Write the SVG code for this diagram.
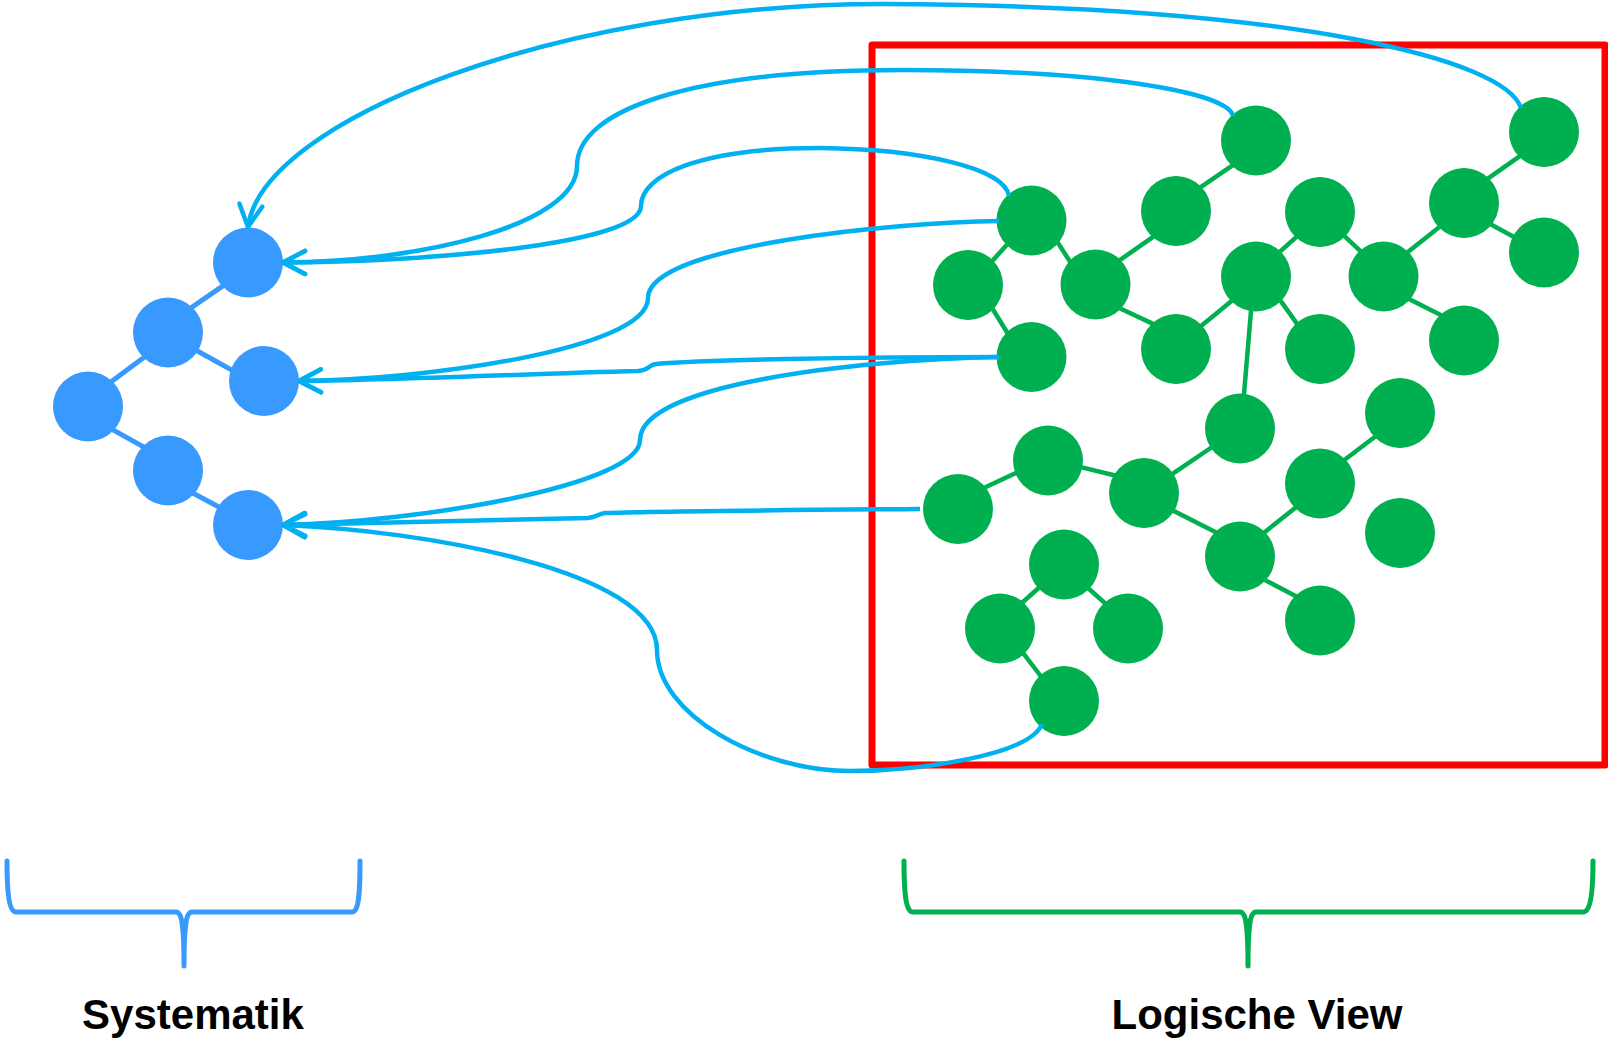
<svg xmlns="http://www.w3.org/2000/svg" width="1608" height="1038" viewBox="0 0 1608 1038">
<style>
.bn{fill:#3899FF}
.gn{fill:#00AF50}
.be{stroke:#3899FF;stroke-width:5;fill:none}
.ge{stroke:#00AF50;stroke-width:4.5;fill:none}
.cn{stroke:#00B0F0;stroke-width:4.5;fill:none;stroke-linecap:butt;marker-end:url(#arr)}
.lbl{font-family:"Liberation Sans",Arial,sans-serif;font-weight:bold;font-size:42px;fill:#000;text-anchor:middle}
</style>
<defs>
<marker id="arr" markerUnits="userSpaceOnUse" markerWidth="40" markerHeight="40" viewBox="-30 -20 40 40" refX="0" refY="0" orient="auto" overflow="visible">
<path d="M-22,-11.5 L0,0 L-22,11.5" fill="none" stroke="#00B0F0" stroke-width="4.5" stroke-linecap="round" stroke-linejoin="round"/>
</marker>
</defs>
<rect id="frame" x="872" y="45" width="733" height="720" fill="none" stroke="#FF0000" stroke-width="7" stroke-linejoin="round"/>
<g id="edges">
<line class="be" x1="186.8" y1="310.7" x2="227.6" y2="282.6"/>
<line class="be" x1="191.5" y1="347.8" x2="236.9" y2="372.9"/>
<line class="be" x1="149.8" y1="353.1" x2="105.2" y2="386.3"/>
<line class="be" x1="108.1" y1="427.1" x2="148.5" y2="449.6"/>
<line class="be" x1="188" y1="490.5" x2="223.6" y2="509.5"/>
<line class="ge" x1="1196" y1="190.4" x2="1238" y2="161.6"/>
<line class="ge" x1="988.3" y1="265.4" x2="1010" y2="241.3"/>
<line class="ge" x1="1055.6" y1="239.1" x2="1072.7" y2="265.9"/>
<line class="ge" x1="990.7" y1="305.7" x2="1009.3" y2="336"/>
<line class="ge" x1="1115.9" y1="262.9" x2="1157.4" y2="233.8"/>
<line class="ge" x1="1115.5" y1="306.2" x2="1156.2" y2="325.4"/>
<line class="ge" x1="1197.1" y1="329.2" x2="1234.9" y2="298.3"/>
<line class="ge" x1="1251.5" y1="305" x2="1243.5" y2="400"/>
<line class="ge" x1="1276.3" y1="255" x2="1300.4" y2="233.3"/>
<line class="ge" x1="1277.1" y1="295.9" x2="1299.6" y2="327.4"/>
<line class="ge" x1="1339.7" y1="231.6" x2="1363.6" y2="254.1"/>
<line class="ge" x1="1404.4" y1="254.8" x2="1443.9" y2="223.6"/>
<line class="ge" x1="1402.5" y1="295.7" x2="1445.2" y2="317.3"/>
<line class="ge" x1="1484.2" y1="181.2" x2="1522.4" y2="154.4"/>
<line class="ge" x1="1487.3" y1="222.6" x2="1517.7" y2="239.1"/>
<line class="ge" x1="982.2" y1="488.8" x2="1021.2" y2="470.6"/>
<line class="ge" x1="1076.8" y1="466.1" x2="1118.2" y2="476.2"/>
<line class="ge" x1="1169.2" y1="476.1" x2="1215.8" y2="444.5"/>
<line class="ge" x1="1168.8" y1="508.4" x2="1221.2" y2="535"/>
<line class="ge" x1="1259.4" y1="536.4" x2="1300.6" y2="503.6"/>
<line class="ge" x1="1342.7" y1="461.3" x2="1378" y2="434.5"/>
<line class="ge" x1="1260.6" y1="577.7" x2="1301.1" y2="599"/>
<line class="ge" x1="1019.6" y1="605" x2="1042" y2="585"/>
<line class="ge" x1="1084.6" y1="585" x2="1107" y2="605"/>
<line class="ge" x1="1020.3" y1="649.3" x2="1043" y2="679"/>
</g>
<g id="sys-a"><circle class="bn" cx="248" cy="262.5" r="35"/></g>
<g id="sys-b"><circle class="bn" cx="168" cy="332.5" r="35"/></g>
<g id="sys-c"><circle class="bn" cx="264" cy="381" r="35"/></g>
<g id="sys-d"><circle class="bn" cx="88" cy="406.5" r="35"/></g>
<g id="sys-e"><circle class="bn" cx="168" cy="470.5" r="35"/></g>
<g id="sys-f"><circle class="bn" cx="248" cy="525" r="35"/></g>
<g id="lv-1"><circle class="gn" cx="1256" cy="140.5" r="35"/></g>
<g id="lv-2"><circle class="gn" cx="1031.5" cy="220.5" r="35"/></g>
<g id="lv-3"><circle class="gn" cx="968" cy="285" r="35"/></g>
<g id="lv-4"><circle class="gn" cx="1095.5" cy="284.5" r="35"/></g>
<g id="lv-5"><circle class="gn" cx="1176" cy="211" r="35"/></g>
<g id="lv-6"><circle class="gn" cx="1031.5" cy="357" r="35"/></g>
<g id="lv-7"><circle class="gn" cx="1176" cy="349" r="35"/></g>
<g id="lv-8"><circle class="gn" cx="1256" cy="276.5" r="35"/></g>
<g id="lv-9"><circle class="gn" cx="1240" cy="428.5" r="35"/></g>
<g id="lv-10"><circle class="gn" cx="1320" cy="212" r="35"/></g>
<g id="lv-11"><circle class="gn" cx="1383.5" cy="276.5" r="35"/></g>
<g id="lv-12"><circle class="gn" cx="1464" cy="203" r="35"/></g>
<g id="lv-13"><circle class="gn" cx="1544" cy="132" r="35"/></g>
<g id="lv-14"><circle class="gn" cx="1544" cy="252.5" r="35"/></g>
<g id="lv-15"><circle class="gn" cx="1320" cy="349" r="35"/></g>
<g id="lv-16"><circle class="gn" cx="1464" cy="340.5" r="35"/></g>
<g id="lv-17"><circle class="gn" cx="1400" cy="413" r="35"/></g>
<g id="lv-18"><circle class="gn" cx="1048" cy="460.5" r="35"/></g>
<g id="lv-19"><circle class="gn" cx="958" cy="509" r="35"/></g>
<g id="lv-20"><circle class="gn" cx="1144" cy="493" r="35"/></g>
<g id="lv-21"><circle class="gn" cx="1320" cy="483.5" r="35"/></g>
<g id="lv-22"><circle class="gn" cx="1240" cy="556.5" r="35"/></g>
<g id="lv-23"><circle class="gn" cx="1320" cy="620.5" r="35"/></g>
<g id="lv-24"><circle class="gn" cx="1064" cy="564.5" r="35"/></g>
<g id="lv-25"><circle class="gn" cx="1000" cy="628.5" r="35"/></g>
<g id="lv-26"><circle class="gn" cx="1128" cy="628.5" r="35"/></g>
<g id="lv-27"><circle class="gn" cx="1064" cy="701" r="35"/></g>
<g id="lv-28"><circle class="gn" cx="1400" cy="533" r="35"/></g>
<g id="connectors">
<path class="cn" d="M1521,108 C1505,60 1300,6 882,4 C560,4 262,120 248,227"/>
<path class="cn" d="M1233,116 C1228,92 1100,70 902,70 C690,70 577,110 577,166 C577,225 420,262 283,262.5"/>
<path class="cn" d="M1009,196 C1005,168 920,149 820,148 C700,148 641,175 641,206 C641,245 420,262 283,262.5"/>
<path class="cn" d="M999,221 C900,222 648,245 648,298 C648,350 420,380 299,381"/>
<path class="cn" d="M999,357 C850,357 700,360 656,364 C648,365 650,370 638,371 C520,374 400,380 299,381"/>
<path class="cn" d="M999,357 C850,360 640,385 640,440 C640,485 420,522 283,525"/>
<path class="cn" d="M920,509 C800,510 650,511 605,513 C597,514 598,517 588,518 C480,520 380,523 283,525"/>
<path class="cn" d="M1042,724 C1030,755 920,771 850,771 C760,771 657,715 657,650 C657,570 420,530 283,525"/>
</g>
<g id="brace-sys">
<path d="M7,861 C7,892 9,912 16,912 L176,912 C182,912 184,925 184,966 C184,925 186,912 192,912 L352,912 C359,912 360,892 360,861" fill="none" stroke="#3899FF" stroke-width="5" stroke-linecap="round" stroke-linejoin="round"/>
<text class="lbl" x="193" y="1029">Systematik</text>
</g>
<g id="brace-lv">
<path d="M904,861 C904,895 906,912 913,912 L1240,912 C1246,912 1248,925 1248,966 C1248,925 1250,912 1256,912 L1583,912 C1590,912 1593,895 1593,861" fill="none" stroke="#00AF50" stroke-width="5" stroke-linecap="round" stroke-linejoin="round"/>
<text class="lbl" x="1257" y="1029">Logische View</text>
</g>
</svg>
